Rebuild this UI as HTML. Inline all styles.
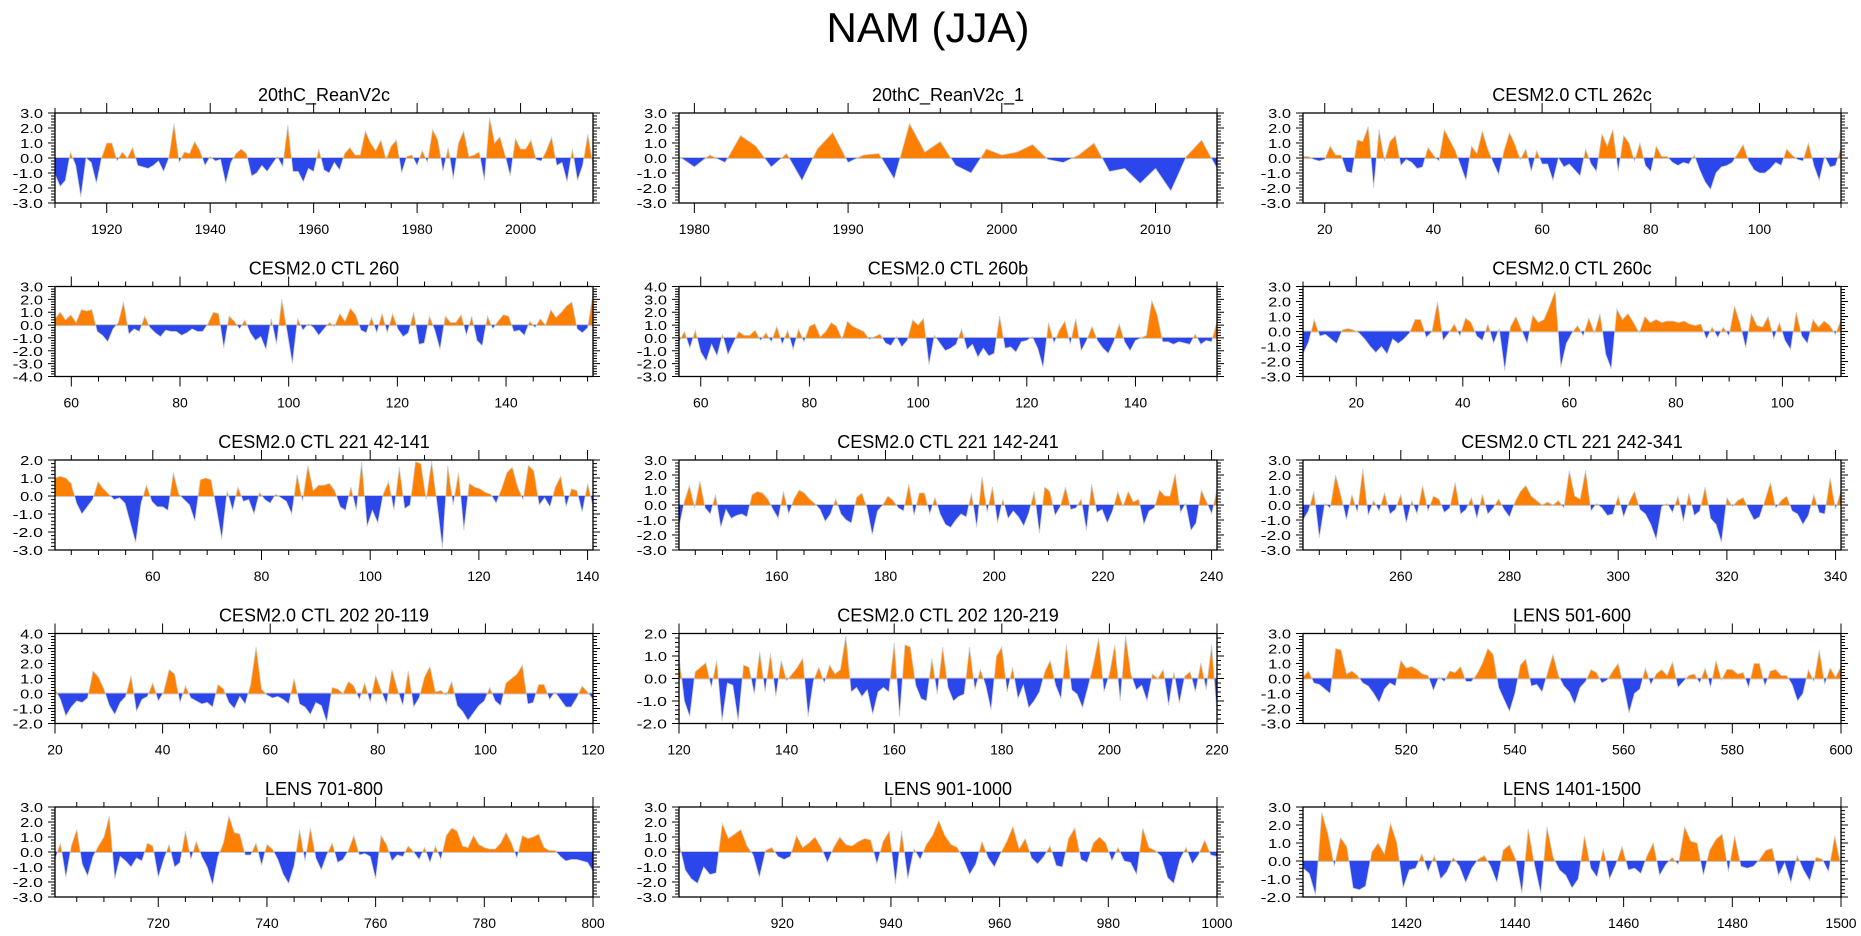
<!DOCTYPE html>
<html><head><meta charset="utf-8"><title>NAM (JJA)</title>
<style>
html,body{margin:0;padding:0;background:#fff;}
svg{display:block;font-family:"Liberation Sans",sans-serif;}
</style></head>
<body>
<svg id="chart" width="1861" height="936" viewBox="0 0 1861 936" xmlns="http://www.w3.org/2000/svg">
<text x="928" y="42" font-size="42" text-anchor="middle" fill="#000">NAM (JJA)</text>
</svg>
<script>
const titles = ["20thC_ReanV2c","20thC_ReanV2c_1","CESM2.0 CTL 262c","CESM2.0 CTL 260","CESM2.0 CTL 260b","CESM2.0 CTL 260c","CESM2.0 CTL 221 42-141","CESM2.0 CTL 221 142-241","CESM2.0 CTL 221 242-341","CESM2.0 CTL 202 20-119","CESM2.0 CTL 202 120-219","LENS 501-600","LENS 701-800","LENS 901-1000","LENS 1401-1500"];
const xStarts = [1910,1979,16,57,56,10,42,142,242,20,120,501,701,901,1401];
const xEnds   = [2014,2014,115,156,155,111,141,241,341,120,220,600,800,1000,1500];
const yMins = [-3,-3,-3,-4,-3,-3,-3,-3,-3,-2,-2,-3,-3,-3,-2];
const yMaxs = [3,3,3,3,4,3,2,3,3,4,2,3,3,3,3];

const s1 = [-1.1,-1.9,-1.5,0.4,-0.5,-2.6,0.0,-0.3,-1.7,0.0,1.0,1.0,-0.2,0.4,0.0,0.7,-0.5,-0.6,-0.7,-0.5,-0.2,-0.9,0.0,2.3,-0.3,0.4,0.3,1.1,0.5,-0.5,0.1,-0.2,-0.1,-1.7,-0.3,0.3,0.6,0.3,-1.2,-1.0,-0.5,-0.9,-0.4,0.1,-0.6,2.2,-0.9,-0.9,-1.6,-0.7,-0.9,0.6,-0.8,-1.0,-0.3,-0.8,0.3,0.7,0.2,0.2,1.8,1.0,0.5,1.2,-0.1,0.8,1.2,-1.0,0.1,0.2,-0.5,0.5,-0.3,1.9,1.2,-0.9,0.7,-1.4,1.0,1.8,0.1,0.2,0.4,-1.5,2.7,1.0,1.4,0.2,-1.2,1.3,0.6,0.6,1.2,-0.1,-0.2,0.5,1.4,-0.5,-0.3,-1.6,0.6,-1.5,-0.5,1.6,-0.5];
const s2 = [0.1,-0.6,0.2,-0.3,1.5,0.8,-0.6,0.3,-1.5,0.6,1.7,-0.3,0.2,0.3,-1.4,2.3,0.4,1.1,-0.5,-1.0,0.6,0.2,0.4,0.9,-0.1,-0.3,0.2,1.0,-0.9,-0.7,-1.7,-0.7,-2.2,0.1,1.2,-0.7];
const s3 = [0.1,0.1,-0.1,-0.2,-0.1,0.8,0.2,0.2,-0.9,-1.0,1.2,1.1,2.1,-2.0,1.9,-0.2,1.1,1.5,-0.5,-0.1,-0.3,-0.7,-0.6,0.7,0.2,-0.2,1.9,1.2,0.5,-0.5,-1.5,0.8,0.3,1.8,0.6,-0.3,-1.1,0.5,1.7,0.9,-0.1,0.6,-0.9,0.5,-0.4,-0.4,-1.5,0.0,-0.6,-0.4,-0.8,-1.2,0.6,-0.4,-0.9,1.6,0.8,1.9,-0.9,1.5,1.0,-0.2,1.0,-0.5,-0.9,0.8,0.1,0.1,-0.3,-0.5,-0.3,-0.4,0.2,-0.8,-1.6,-2.1,-1.0,-0.6,-0.5,-0.3,0.3,0.9,-0.2,-0.8,-1.0,-1.0,-0.7,-0.3,-0.5,0.6,0.2,-0.1,-0.2,1.0,-0.5,-1.5,0.1,-0.6,-0.5,0.7];
const s4 = [0.5,1.0,0.4,0.8,0.2,1.2,1.1,1.2,-0.5,-0.8,-1.3,-0.3,0.2,1.8,-0.7,-0.3,-0.5,0.7,-0.2,-0.6,-0.9,-0.4,-0.5,-0.5,-0.8,-0.6,-0.3,-0.5,-0.5,0.1,1.0,0.9,-1.8,0.7,0.3,-0.3,0.4,-0.6,-1.2,-0.9,-1.9,0.5,-1.5,2.0,-0.5,-3.0,0.5,-0.4,0.1,-0.2,-0.8,-0.3,0.2,-0.1,0.9,0.3,1.3,0.8,-0.4,-0.6,0.6,-0.6,0.9,-0.6,0.9,-0.3,-0.9,-0.6,1.0,-1.5,-1.4,0.7,-0.4,-1.9,0.7,0.2,0.2,0.8,-0.8,0.7,-1.2,-1.6,0.7,-0.3,0.3,0.8,0.7,-0.5,-0.4,-0.8,0.3,-0.2,0.5,0.0,1.2,0.6,1.0,1.5,1.8,-0.3,-0.6,-0.2,2.5];
const s5 = [-0.3,0.5,-0.8,0.6,-1.1,-1.8,-0.5,-1.4,0.3,-1.3,-0.4,0.5,0.2,0.2,0.6,-0.2,0.4,-0.3,0.9,-0.5,0.6,-0.9,0.7,-0.3,0.9,1.1,0.1,0.5,1.2,0.9,-0.1,1.3,0.9,0.7,0.5,-0.1,0.1,0.3,-0.4,-0.6,0.1,-0.7,-0.2,1.4,1.0,1.5,-2.1,0.2,-0.4,-1.0,-0.8,-0.5,0.7,-0.9,-0.5,-1.5,-0.8,-1.4,-1.2,1.7,-0.8,-0.7,-1.1,-0.3,-0.2,0.1,-0.8,-2.3,1.2,-0.4,0.6,1.3,-0.5,1.5,-1.0,-0.2,0.9,-0.2,-0.8,-1.2,-0.3,1.1,-0.3,-1.0,-0.2,0.0,0.2,2.9,1.8,-0.3,-0.3,-0.5,-0.3,-0.4,-0.5,0.3,-0.5,-0.2,-0.3,1.3];
const s6 = [-1.5,-0.7,0.8,-0.3,-0.2,-0.5,-0.8,0.1,0.2,0.1,-0.1,-0.5,-1.0,-1.4,-1.0,-1.5,-0.5,-0.8,-0.5,-0.1,0.8,0.8,-0.4,0.0,2.0,-0.6,-0.1,0.5,-0.3,0.9,0.6,-0.3,-0.6,0.5,-0.8,0.2,-2.6,0.3,1.0,0.1,-0.8,1.1,0.6,0.8,1.7,2.7,-2.4,-0.8,-0.1,0.4,-0.3,0.9,-0.1,1.2,-1.5,-2.5,1.5,0.8,1.2,0.6,-0.1,1.0,0.6,0.8,0.6,0.7,0.7,0.6,0.7,0.5,0.4,0.5,-0.5,0.3,-0.4,0.3,-0.3,1.7,0.5,-1.1,1.2,0.4,0.3,1.0,-0.5,0.6,-0.6,-1.2,1.3,-0.3,-0.8,0.8,0.3,0.7,0.4,-0.2,0.8];
const s7 = [1.0,1.1,1.0,0.7,-0.4,-1.0,-0.6,-0.2,0.8,0.4,0.1,-0.2,-0.1,-0.4,-1.5,-2.6,-0.4,0.6,-0.3,-0.6,-0.6,-0.8,1.3,0.1,-0.2,-0.5,-1.4,0.9,1.0,0.9,-0.7,-2.4,0.3,-0.8,0.5,-0.3,-0.2,-1.0,0.2,-0.2,-0.4,0.1,-0.1,-0.3,-1.0,1.2,-0.3,1.7,0.3,0.6,0.6,0.7,0.3,-0.6,-0.8,0.5,-0.8,1.9,-1.7,-0.8,-1.5,0.1,0.8,-0.8,1.6,-0.7,-0.5,1.9,1.8,-0.2,1.95,-0.4,-2.9,1.7,-0.5,1.3,-1.9,0.7,0.5,0.4,0.2,0.1,-0.4,0.4,1.3,1.6,0.5,-0.2,1.7,1.4,-0.5,-0.1,-0.6,0.5,1.1,-0.6,0.4,0.3,-0.9,0.7,-0.6];
const s8 = [-1.5,0.2,1.3,-0.2,1.6,-0.2,-0.6,0.7,-1.5,-0.3,-0.9,-0.7,-0.6,-0.8,0.7,0.9,0.8,0.4,-0.3,-0.9,0.9,-0.6,0.4,1.0,0.8,0.4,0.1,-0.3,-1.1,-0.6,0.4,-0.6,-1.0,-1.2,0.5,0.8,-0.2,-2.0,-0.4,0.0,0.6,0.3,-0.2,-0.4,1.4,-0.7,0.8,0.8,-0.6,0.5,-0.6,-1.3,-1.5,-1.0,-0.6,-0.8,0.8,-1.5,1.9,-0.5,1.2,-1.2,0.4,-0.9,-0.4,-0.8,-1.4,-0.5,0.9,-1.9,1.2,0.9,-0.7,-0.1,1.2,-0.3,-0.2,0.4,-1.7,1.4,-0.5,-0.3,-1.2,-0.4,0.9,-0.1,0.9,0.2,0.4,-1.3,-0.4,-0.2,1.0,0.6,0.6,2.1,-0.5,0.1,-1.7,-1.2,1.0,0.2,-0.6,1.1];
const s9 = [-1.0,-0.4,0.9,-2.2,0.1,-0.2,2.0,0.6,-1.0,0.7,-0.5,2.4,-0.7,0.3,-0.4,0.8,-0.6,-0.3,0.7,-1.2,0.3,-0.6,1.3,-0.4,0.6,0.4,-0.5,-0.2,1.5,-0.6,-0.3,0.5,-0.9,0.7,-0.6,-0.2,0.4,-0.3,-0.8,0.2,0.9,1.3,0.6,0.3,0.0,0.2,0.0,0.3,-0.2,2.3,0.6,0.4,2.3,-0.4,0.1,-0.2,-0.7,-0.6,0.6,-0.8,0.2,0.9,-0.3,-0.6,-1.3,-2.3,-0.1,0.1,-0.5,0.6,-1.1,0.8,-0.7,-0.4,1.2,-0.9,-1.3,-2.5,0.5,-0.1,0.3,0.5,-0.3,-1.0,-0.8,0.3,1.5,-0.2,0.3,0.6,-0.4,-0.6,-1.3,-0.7,0.7,-0.5,-0.6,1.8,-0.3,1.0];
const s10 = [0.3,-0.4,-1.5,-0.9,-0.5,-0.6,-0.3,1.5,1.1,0.3,-0.8,-1.4,-0.6,-0.2,1.2,-1.2,-0.4,-0.2,0.7,-0.5,0.1,1.6,1.3,-0.6,0.5,-0.3,-0.5,-0.7,-0.6,-0.9,0.6,0.3,-0.6,-1.0,-0.2,-0.7,0.6,3.1,0.3,-0.1,-0.3,-0.2,-0.4,-0.7,1.0,-0.7,-0.9,-1.4,-0.6,-0.8,-1.9,0.4,0.3,0.0,0.8,0.5,-0.4,0.7,-0.6,1.2,0.2,-0.7,1.6,0.3,-0.8,1.5,-0.9,-0.3,1.1,1.8,0.1,0.2,-0.1,0.8,-0.8,-1.2,-1.8,-1.3,-0.8,-0.5,0.4,-0.5,-0.8,0.7,1.0,1.3,1.9,-0.7,-0.6,0.6,0.6,-0.4,0.1,-0.4,-0.9,-0.9,-0.3,0.5,0.1,-0.4];
const s11 = [1.0,-1.0,-1.7,0.3,0.5,0.7,-0.4,0.8,-1.9,-0.2,-0.3,-1.9,0.6,0.5,-0.7,1.2,-0.6,1.1,-0.8,0.8,-0.1,0.2,0.5,0.9,-1.7,-0.1,0.5,-0.2,0.6,0.2,0.4,1.9,-0.6,-0.4,-0.8,-0.5,-1.6,-0.6,-0.4,-0.6,1.6,-1.7,1.5,1.4,-0.3,-0.9,-1.0,0.9,-0.7,1.4,-0.4,-1.0,-0.8,-0.7,1.4,-0.5,0.4,-0.3,-1.4,1.0,1.4,-0.6,0.5,-0.9,-0.3,-1.3,-1.0,-0.6,0.3,0.8,-0.3,-0.9,1.5,-0.5,-0.7,-1.3,-0.4,0.6,1.8,-0.6,0.2,1.5,-1.0,1.9,0.2,-0.5,-0.3,-1.0,0.2,0.0,0.4,-1.2,0.3,-1.1,0.1,0.3,-0.6,0.7,-0.5,1.5,-1.6];
const s12 = [0.1,0.5,-0.3,-0.4,-0.7,-1.0,2.0,1.9,0.3,0.5,0.2,-0.3,-0.5,-1.0,-1.6,-0.7,-0.3,-0.5,1.2,0.7,0.8,0.6,0.3,0.2,-0.8,0.1,-0.2,0.5,0.4,0.8,-0.2,-0.2,0.3,1.0,2.0,1.6,-0.6,-1.4,-2.2,-1.0,0.9,1.3,-0.5,-0.4,-0.9,0.4,1.6,0.2,-0.5,-0.9,-1.7,-0.6,-0.2,0.6,0.4,-0.3,-0.1,0.5,1.0,-0.5,-2.3,-1.0,-0.7,0.7,-0.4,0.3,0.6,0.2,1.1,-0.6,-0.2,0.2,0.3,-0.3,0.7,-0.6,1.2,-0.1,0.6,0.6,0.3,0.4,-0.6,1.0,1.0,-0.5,0.5,0.6,0.2,0.2,-0.4,-1.5,-1.0,0.6,-0.2,1.9,-0.4,0.7,0.1,0.8];
const s13 = [-0.5,0.6,-1.7,0.4,1.5,-0.8,-1.6,-0.3,0.4,1.0,2.4,-1.8,-0.3,-0.6,-1.0,-0.4,-0.6,0.6,0.4,-1.7,-0.5,0.5,-1.0,-0.7,1.4,-0.5,0.7,-0.3,-1.0,-2.2,-0.3,0.6,2.4,1.3,1.2,-0.2,-0.2,0.6,-0.9,0.5,0.2,-0.5,-1.5,-2.1,-0.9,1.5,-0.6,1.6,-0.4,-1.2,-0.2,0.6,-0.7,-0.5,0.1,1.1,-0.2,-0.1,-0.3,-1.8,1.1,0.5,-0.6,-0.2,-0.3,0.4,0.0,-0.5,0.3,-0.7,0.4,-0.5,1.1,1.6,1.4,0.4,0.3,1.1,0.5,0.3,0.2,0.2,0.6,1.3,0.6,-0.4,1.1,0.9,1.0,1.2,0.3,0.1,0.1,-0.3,-0.6,-0.5,-0.5,-0.6,-0.7,-1.3];
const s14 = [0.6,-1.2,-1.8,-2.1,-1.0,-1.5,-1.4,1.9,0.9,1.2,1.5,0.4,-0.2,-1.7,0.1,0.3,-0.3,-0.5,-0.3,1.1,0.3,0.6,1.0,0.3,-0.7,0.3,1.0,0.5,0.4,0.7,0.9,0.8,-0.8,0.7,1.4,-2.1,1.4,-1.8,0.2,-0.5,0.5,1.1,2.1,1.1,0.5,0.3,-0.5,-1.5,-0.8,0.7,-0.4,-1.0,-0.1,0.7,1.7,0.2,0.9,-0.4,-0.8,-0.3,0.4,-0.9,-1.0,0.9,1.6,-0.5,-0.7,0.6,1.0,0.6,-0.6,0.3,-0.6,-0.7,-1.5,1.6,0.3,0.1,-0.3,-1.7,-2.1,-0.5,0.3,-0.8,-0.2,0.8,-0.2,-0.3];
const s15 = [-0.4,-0.7,-1.9,2.7,1.5,-0.3,1.3,0.8,-1.5,-1.6,-1.4,0.5,1.0,0.4,2.1,1.0,-1.5,-0.5,-0.4,0.4,-0.6,0.3,-1.0,-0.6,0.2,-0.3,-1.2,-0.4,0.1,0.3,-0.3,-1.2,0.6,0.9,0.1,-1.8,1.8,-0.2,-1.8,1.9,0.2,-0.5,-0.8,-1.5,-1.0,1.4,-0.4,-0.9,0.7,-1.0,-0.2,0.8,-0.5,-0.4,-0.7,0.3,1.0,-0.8,-0.2,0.2,-0.2,1.9,1.1,1.0,-0.8,0.6,1.2,1.5,-0.6,1.4,-0.3,-0.4,-0.3,0.1,0.6,0.7,-0.8,-0.1,-1.2,0.3,-0.5,-1.1,0.2,0.1,-0.6,1.4,-0.3];
const series = [s1,s2,s3,s4,s5,s6,s7,s8,s9,s10,s11,s12,s13,s14,s15];

const NS = "http://www.w3.org/2000/svg";
const svg = document.getElementById("chart");
const colLeft = [55, 679, 1303], W = 538, H = 90;
const rowTop = [113, 286.5, 460, 633.5, 807];

function mk(tag, attrs, parent) {
  const e = document.createElementNS(NS, tag);
  for (const k in attrs) e.setAttribute(k, attrs[k]);
  parent.appendChild(e);
  return e;
}

series.forEach((vals, p) => {
  const L = colLeft[p % 3], T = rowTop[Math.floor(p / 3)];
  const xmin = xStarts[p], xmax = xEnds[p], ymin = yMins[p], ymax = yMaxs[p];
  const n = vals.length;
  const xOf = i => xmin + i * (xmax - xmin) / (n - 1);
  const sx = x => L + (x - xmin) / (xmax - xmin) * W;
  const sy = v => T + (ymax - v) / (ymax - ymin) * H;
  const g = mk("g", {}, svg);
  
  

  const t = mk("text", {x: L + W / 2, y: T - 12, "font-size": 18, "text-anchor": "middle", fill: "#000"}, g);
  t.textContent = titles[p];
  
  

  const pts = [];
  for (let i = 0; i < n; i++) {
    const x = xOf(i), v = vals[i];
    if (i > 0) {
      const pv = vals[i - 1], px = xOf(i - 1);
      if ((pv > 0 && v < 0) || (pv < 0 && v > 0)) {
        const xc = px + (x - px) * pv / (pv - v);
        pts.push([xc, 0]);
      }
    }
    pts.push([x, v]);
  }
  const y0 = sy(0);
  let dp = "M" + sx(pts[0][0]) + "," + y0, dn = dp;
  pts.forEach(([x, v]) => {
    dp += "L" + sx(x).toFixed(2) + "," + sy(Math.max(v, 0)).toFixed(2);
    dn += "L" + sx(x).toFixed(2) + "," + sy(Math.min(v, 0)).toFixed(2);
  });
  const end = "L" + sx(pts[pts.length - 1][0]) + "," + y0 + "Z";
  const zl = mk("line", {x1: L, x2: L + W, y1: y0, y2: y0, stroke: "#c8c8c8", "stroke-width": 2}, g);
  
  
  const pa = mk("path", {d: dp + end, fill: "#ff8000", stroke: "none"}, g);
  
  
  const na = mk("path", {d: dn + end, fill: "#2b47ec", stroke: "none"}, g);
  
  
  let dl = "";
  pts.forEach(([x, v], i) => { dl += (i ? "L" : "M") + sx(x).toFixed(2) + "," + sy(v).toFixed(2); });
  const ln = mk("path", {d: dl, fill: "none", stroke: "#cfcfcf", "stroke-width": 0.8}, g);
  
  

  const fr = mk("rect", {x: L, y: T, width: W, height: H, fill: "none", stroke: "#000", "stroke-width": 1.3}, g);
  
  

  let dt = "";
  for (let k = Math.round(ymin * 5); k <= Math.round(ymax * 5); k++) {
    const v = k / 5, y = sy(v), major = k % 5 === 0, len = major ? 7 : 4;
    dt += "M" + L + "," + y + "h" + (-len) + "M" + (L + W) + "," + y + "h" + len;
    if (major) {
      const s = v.toFixed(1);
      const lb = mk("text", {x: L - 12, y: y + 5, "font-size": 13, "text-anchor": "end", fill: "#000", textLength: s.length * 7.6, lengthAdjust: "spacingAndGlyphs"}, g);
      lb.textContent = s;
      
      
    }
  }
  const majStep = p === 1 ? 10 : 20, minStep = p === 1 ? 2 : 5;
  for (let x = Math.ceil(xmin / minStep) * minStep; x <= xmax; x += minStep) {
    const X = sx(x), major = x % majStep === 0, len = major ? 10 : 5;
    dt += "M" + X + "," + T + "v" + (-len) + "M" + X + "," + (T + H) + "v" + len;
    if (major) {
      const lb = mk("text", {x: X, y: T + H + 31, "font-size": 14, "text-anchor": "middle", fill: "#000"}, g);
      lb.textContent = x;
      
      
    }
  }
  const tk = mk("path", {d: dt, stroke: "#000", "stroke-width": 1, fill: "none"}, g);
  
  
});
</script>
</body></html>
